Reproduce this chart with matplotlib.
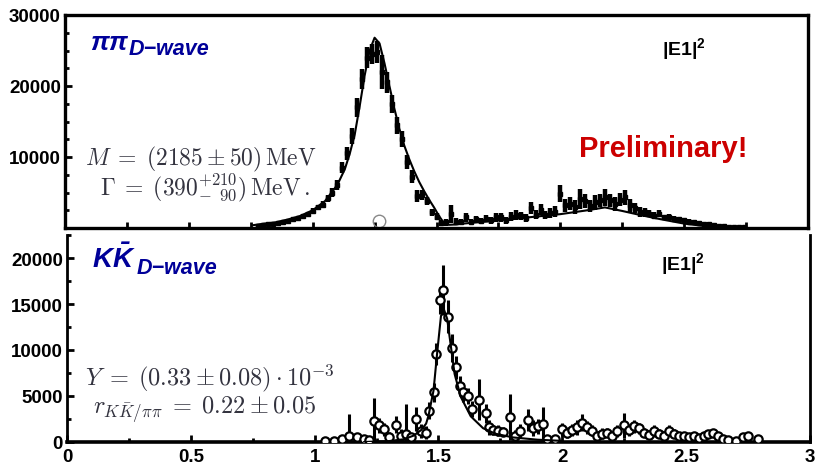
import matplotlib
matplotlib.use("Agg")
import matplotlib.pyplot as plt
from matplotlib.ticker import MultipleLocator, FixedLocator

plt.rcParams['font.family'] = ['Liberation Sans', 'DejaVu Sans']
plt.rcParams['mathtext.bfit'] = 'Liberation Sans:italic:bold'
plt.rcParams['mathtext.bf'] = 'Liberation Sans:bold'
plt.rcParams['mathtext.rm'] = 'Liberation Sans'
plt.rcParams['mathtext.it'] = 'Liberation Sans:italic'

# pi pi D-wave intensity (top panel)
pp_x = [0.78, 0.80, 0.82, 0.84, 0.86, 0.88, 0.90, 0.92, 0.94, 0.96, 0.98,
        1.00, 1.02, 1.04, 1.06, 1.08, 1.10, 1.12, 1.14, 1.16, 1.18, 1.20,
        1.22, 1.24, 1.26, 1.28, 1.30, 1.32, 1.34, 1.36, 1.38, 1.40, 1.42,
        1.44, 1.46, 1.48, 1.50, 1.52, 1.54, 1.56, 1.58, 1.60, 1.62, 1.64,
        1.66, 1.68, 1.70, 1.72, 1.74, 1.76, 1.78, 1.80, 1.82, 1.84, 1.86,
        1.88, 1.90, 1.92, 1.94, 1.96, 1.98, 2.00, 2.02, 2.04, 2.06, 2.08,
        2.10, 2.12, 2.14, 2.16, 2.18, 2.20, 2.22, 2.24, 2.26, 2.28, 2.30,
        2.32, 2.34, 2.36, 2.38, 2.40, 2.42, 2.44, 2.46, 2.48, 2.50, 2.52,
        2.54, 2.56, 2.58, 2.60, 2.62, 2.64, 2.66, 2.68, 2.70, 2.72, 2.74]
pp_y = [300, 400, 500, 550, 700, 800, 1000, 1200, 1350, 1700, 2000,
        2400, 2900, 3300, 4200, 5000, 6100, 8500, 10500, 13000, 17000, 21000,
        24000, 24500, 24800, 22000, 20500, 17500, 14500, 12500, 9300, 7200, 4500,
        4600, 3800, 2200, 1600, 700, 800, 2000, 900, 800, 1500, 900,
        1200, 1000, 1300, 1100, 1500, 1500, 1100, 1600, 1800, 1700, 1400,
        2800, 1900, 2600, 1800, 2100, 2300, 4800, 3200, 3400, 3000, 4100,
        3800, 3100, 3600, 3900, 4300, 3900, 3400, 4000, 4300, 3200, 2800,
        2200, 2200, 2000, 1700, 2000, 1500, 1600, 1300, 1200, 1100, 900,
        900, 700, 600, 600, 400, 300, 250, 200, 200, 150, 150]
pp_err = [150, 150, 150, 200, 200, 200, 250, 250, 250, 300, 300,
          350, 400, 450, 500, 600, 700, 800, 900, 1100, 1300, 1400,
          1500, 1400, 1500, 2400, 1500, 1300, 1200, 1100, 1000, 900, 800,
          700, 600, 500, 500, 400, 500, 1300, 500, 400, 600, 400,
          500, 400, 500, 500, 600, 600, 500, 600, 700, 600, 600,
          800, 700, 800, 600, 700, 800, 1200, 900, 900, 1000, 1400,
          1000, 900, 1000, 900, 1200, 900, 1000, 900, 1100, 900, 700,
          700, 600, 500, 500, 500, 400, 400, 400, 300, 300, 300,
          250, 250, 200, 200, 150, 150, 100, 100, 100, 80, 80]

# fit curve for pi pi
pp_fit_x = [0.76, 0.80, 0.85, 0.90, 0.95, 1.00, 1.05, 1.10, 1.13, 1.15, 1.17,
            1.19, 1.21, 1.23, 1.25, 1.27, 1.29, 1.31, 1.33, 1.35, 1.37, 1.39,
            1.41, 1.43, 1.45, 1.47, 1.49, 1.51, 1.53, 1.55, 1.58, 1.60, 1.70,
            1.80, 1.90, 2.00, 2.10, 2.18, 2.25, 2.32, 2.40, 2.50, 2.60, 2.66]
pp_fit_y = [400, 600, 800, 1200, 1700, 2500, 3800, 6100, 8300, 10500, 13200,
            17200, 21500, 25000, 26800, 26000, 23200, 20000, 16800, 14000, 11600, 9700,
            8000, 6500, 5200, 4000, 2900, 1700, 700, 450, 500, 600, 900,
            1250, 1600, 1950, 2450, 2900, 2400, 1850, 1270, 620, 200, 80]

# K Kbar D-wave intensity (bottom panel)
kk_x = [1.04, 1.08, 1.11, 1.14, 1.17, 1.20, 1.22, 1.24, 1.26, 1.28, 1.30,
        1.33, 1.35, 1.37, 1.39, 1.41, 1.43, 1.45, 1.46, 1.48, 1.49, 1.505,
        1.52, 1.54, 1.555, 1.57, 1.585, 1.60, 1.62, 1.635, 1.665, 1.69, 1.705,
        1.72, 1.74, 1.76, 1.79, 1.81, 1.83, 1.86, 1.88, 1.90, 1.92, 1.94,
        1.97, 2.00, 2.02, 2.04, 2.06, 2.08, 2.10, 2.12, 2.14, 2.16, 2.18,
        2.20, 2.22, 2.25, 2.27, 2.29, 2.31, 2.33, 2.35, 2.37, 2.39, 2.41,
        2.43, 2.45, 2.47, 2.49, 2.51, 2.53, 2.55, 2.57, 2.59, 2.61, 2.63,
        2.65, 2.67, 2.70, 2.73, 2.75, 2.79]
kk_y = [100, 150, 300, 700, 500, 300, 250, 2300, 1800, 1400, 500,
        1900, 700, 900, 500, 2500, 1200, 1000, 3400, 5400, 9600, 15400,
        16500, 13600, 10200, 8100, 6100, 5400, 5000, 3600, 4600, 3100, 1600,
        1300, 1200, 1100, 2700, 600, 1200, 2400, 1500, 1700, 2000, 300,
        300, 1400, 1000, 1300, 1600, 2100, 1600, 1200, 700, 900, 1000,
        600, 1200, 1800, 1300, 1700, 1500, 1000, 800, 1200, 900, 700,
        1200, 900, 600, 700, 500, 600, 400, 700, 900, 1000, 600,
        300, 200, 100, 500, 700, 300]
kk_err = [200, 250, 300, 2300, 500, 500, 400, 2500, 800, 700, 600,
          900, 700, 3200, 500, 1300, 800, 700, 900, 1000, 1200, 1500,
          2700, 1800, 1500, 1300, 1100, 1000, 900, 900, 2200, 1000, 800,
          500, 600, 500, 2500, 700, 800, 1200, 900, 800, 1800, 400,
          300, 700, 600, 700, 800, 900, 700, 600, 500, 600, 500,
          500, 700, 1400, 700, 700, 600, 500, 500, 700, 500, 500,
          600, 500, 400, 400, 400, 400, 300, 400, 400, 400, 300,
          300, 200, 200, 300, 400, 300]

kk_fit_x = [1.20, 1.30, 1.36, 1.40, 1.43, 1.45, 1.46, 1.48, 1.495, 1.51, 1.522,
            1.535, 1.55, 1.565, 1.59, 1.63, 1.68, 1.73, 1.80, 1.90, 2.00]
kk_fit_y = [0, 100, 300, 700, 1300, 2000, 2900, 5600, 9800, 13700, 14400,
            13400, 10400, 7400, 4900, 2800, 1500, 900, 500, 250, 120]

# stray open marker in the upper panel
stray_x = [1.268]
stray_y = [1000]

navy = '#000099'
formula_color = '#33333f'

fig = plt.figure(figsize=(8.15, 4.64), dpi=100)
ax1 = fig.add_axes([65 / 815, 1 - 229 / 464, 743 / 815, 213 / 464])
ax2 = fig.add_axes([67 / 815, 1 - 443 / 464, 743 / 815, 207 / 464])

# ---- top panel ----
ax1.errorbar(pp_x, pp_y, yerr=pp_err, fmt='s', color='black', ms=3,
             elinewidth=3.2, capsize=0, zorder=3)
ax1.plot(pp_fit_x, pp_fit_y, color='black', lw=1.5, zorder=4)
ax1.plot(stray_x, stray_y, 'o', mfc='none', mec='#888888', ms=9, mew=1.0)
ax1.set_xlim(0, 3)
ax1.set_ylim(0, 30000)
ax1.yaxis.set_major_locator(FixedLocator([10000, 20000, 30000]))
ax1.yaxis.set_minor_locator(MultipleLocator(2500))
ax1.xaxis.set_major_locator(MultipleLocator(0.5))
ax1.xaxis.set_minor_locator(MultipleLocator(0.25))
ax1.tick_params(axis='x', which='both', direction='in', length=4, width=2,
                labelbottom=False)
ax1.tick_params(axis='y', which='both', direction='in', length=3, width=2,
                labelsize=13.5, pad=3)
ax1.tick_params(axis='y', which='major', length=5)
for lab in ax1.get_yticklabels():
    lab.set_fontweight('bold')
for s in ax1.spines.values():
    s.set_linewidth(2.4)

ax1.text(0.034, 0.84, r'$\mathbfit{\pi\pi}$', transform=ax1.transAxes,
         color=navy, fontsize=19, math_fontfamily='custom', va='baseline')
ax1.text(0.086, 0.817, 'D−wave', transform=ax1.transAxes, color=navy,
         fontsize=15.5, fontweight='bold', fontstyle='italic', va='baseline')
ax1.text(0.803, 0.817, '|E1|$^{\\mathbf{2}}$', transform=ax1.transAxes,
         fontsize=14, fontweight='bold', va='baseline', math_fontfamily='custom')
ax1.text(0.919, 0.338, 'Preliminary!', transform=ax1.transAxes,
         color='#cc0000', fontsize=21, fontweight='bold', ha='right',
         va='baseline')
ax1.text(0.027, 0.30, r'$M\;=\;(2185 \pm 50)\,\mathrm{MeV}$',
         transform=ax1.transAxes, color=formula_color, fontsize=17,
         math_fontfamily='cm', ha='left', va='baseline')
ax1.text(0.047, 0.16, r'$\Gamma\;=\;(390^{+210}_{-\;\;90})\,\mathrm{MeV}\,.$',
         transform=ax1.transAxes, color=formula_color, fontsize=17,
         math_fontfamily='cm', ha='left', va='baseline')

# ---- bottom panel ----
ax2.errorbar(kk_x, kk_y, yerr=kk_err, fmt='o', color='black', mfc='white',
             mec='black', ms=6, mew=1.6, elinewidth=2.2, capsize=0, zorder=3)
ax2.plot(kk_fit_x, kk_fit_y, color='black', lw=1.5, zorder=4)
ax2.set_xlim(0, 3)
ax2.set_ylim(0, 22500)
ax2.yaxis.set_major_locator(MultipleLocator(5000))
ax2.yaxis.set_minor_locator(MultipleLocator(2500))
ax2.xaxis.set_minor_locator(MultipleLocator(0.25))
ax2.set_xticks([0, 0.5, 1, 1.5, 2, 2.5, 3])
ax2.set_xticklabels(['0', '0.5', '1', '1.5', '2', '2.5', '3'])
ax2.tick_params(axis='both', which='both', direction='in', width=2,
                labelsize=13.5)
ax2.tick_params(axis='both', which='major', length=5)
ax2.tick_params(axis='both', which='minor', length=3)
ax2.tick_params(axis='y', pad=3)
ax2.tick_params(axis='x', pad=4)
for lab in ax2.get_yticklabels() + ax2.get_xticklabels():
    lab.set_fontweight('bold')
ax2.spines['top'].set_visible(False)
ax2.spines['left'].set_linewidth(2.0)
ax2.spines['right'].set_linewidth(2.0)
ax2.spines['bottom'].set_linewidth(2.6)

ax2.text(0.034, 0.845, r'$\mathbfit{K\bar{K}}$', transform=ax2.transAxes,
         color=navy, fontsize=20, math_fontfamily='custom', va='baseline')
ax2.text(0.094, 0.816, 'D−wave', transform=ax2.transAxes, color=navy,
         fontsize=15.5, fontweight='bold', fontstyle='italic', va='baseline')
ax2.text(0.800, 0.836, '|E1|$^{\\mathbf{2}}$', transform=ax2.transAxes,
         fontsize=14, fontweight='bold', va='baseline', math_fontfamily='custom')
ax2.text(0.024, 0.28, r'$Y\;=\;(0.33 \pm 0.08)\cdot 10^{-3}$',
         transform=ax2.transAxes, color=formula_color, fontsize=17.5,
         math_fontfamily='cm', ha='left', va='baseline')
ax2.text(0.035, 0.14, r'$r_{K\bar{K}/\pi\pi}\;=\;0.22 \pm 0.05$',
         transform=ax2.transAxes, color=formula_color, fontsize=17.5,
         math_fontfamily='cm', ha='left', va='baseline')

fig.savefig('out.png', dpi=100)
